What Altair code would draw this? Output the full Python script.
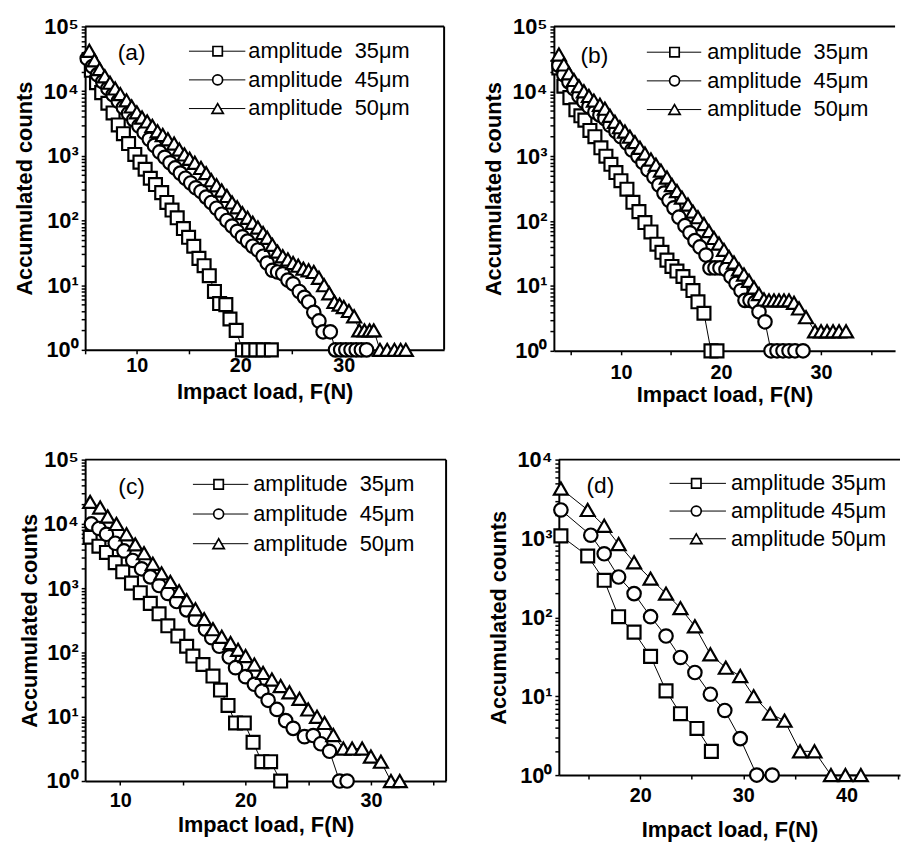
import altair as alt
import pandas as pd

FONT = "Liberation Sans"
NAMES = ["35", "45", "50"]
SHAPES = ["square", "circle", "triangle-up"]

# ---------------- panel (a) ----------------
a_sq_x = [5.6, 6.1, 6.6, 7.2, 7.7, 8.2, 8.7, 9.2, 9.8, 10.3, 10.8, 11.3, 11.8, 12.4, 12.9, 13.4, 13.9,
          14.5, 15.0, 15.5, 16.0, 16.5, 17.0, 17.5, 18.0, 18.6, 19.0, 19.6, 20.2, 20.8, 21.5, 22.2, 23.0]
a_sq_y = [21000, 13500, 9500, 6500, 4600, 3000, 2200, 1550, 1050, 800, 620, 450, 360, 270, 190, 145, 110,
          75, 55, 40, 26, 20, 14, 8, 5.2, 5, 3, 2, 1, 1, 1, 1, 1]
a_ci_x = [5.2, 5.7, 6.2, 6.7, 7.2, 7.7, 8.2, 8.7, 9.2, 9.7, 10.2, 10.7, 11.2, 11.7, 12.2, 12.7, 13.2, 13.7,
          14.2, 14.7, 15.2, 15.7, 16.2, 16.7, 17.2, 17.7, 18.2, 18.7, 19.2, 19.7, 20.2, 20.7, 21.2, 21.7,
          22.2, 22.6, 23.1, 23.6, 24.1, 24.6, 25.1, 25.7, 26.2, 26.6, 27.1, 27.6, 28.0, 28.7,
          29.2, 29.7, 30.2, 30.7, 31.2, 31.7, 32.2]
a_ci_y = [32000, 24000, 18000, 14000, 11000, 8800, 7000, 5600, 4500, 3600, 2900, 2300, 1800, 1450, 1150, 950,
          780, 650, 540, 450, 380, 320, 280, 230, 190, 155, 125, 100, 82, 68, 56, 48, 40, 35,
          28, 22, 17, 16, 15, 12, 10.5, 8, 6.5, 5.5, 3.8, 2.8, 1.9, 1.9,
          1, 1, 1, 1, 1, 1, 1]
a_tr_x = [5.4, 5.9, 6.4, 6.9, 7.4, 7.9, 8.4, 9.0, 9.5, 10.0, 10.5, 11.0, 11.5, 12.0, 12.5, 13.0, 13.6, 14.1,
          14.6, 15.1, 15.6, 16.2, 16.7, 17.2, 17.7, 18.2, 18.7, 19.2, 19.7, 20.2, 20.7, 21.2, 21.7, 22.2,
          22.6, 23.1, 23.6, 24.1, 24.6, 25.1, 25.6, 26.1, 26.6, 27.1, 27.6, 28.1, 28.6, 29.1, 29.6, 30.0,
          30.5, 31.0, 31.5, 32.0, 32.5, 32.9, 33.5, 34.2, 34.9, 35.5, 36.0]
a_tr_y = [42000, 30000, 22000, 17000, 13500, 11000, 9000, 7200, 5800, 4700, 3900, 3400, 2900, 2400, 2100,
          1800, 1550, 1250, 1050, 900, 780, 650, 540, 420, 350, 290, 240, 190, 160, 130, 110, 92, 78, 64,
          54, 42, 33, 28, 25, 22, 20, 18, 17, 16, 13, 10, 7.5, 5.5, 5, 4.6,
          4, 3.3, 2, 2, 2, 2, 1, 1, 1, 1, 1]

# ---------------- panel (b) ----------------
b_sq_x = [3.8, 4.3, 4.9, 5.5, 6.0, 6.4, 6.9, 7.4, 8.0, 8.5, 9.0, 9.5, 10.0, 10.6, 11.2, 11.8, 12.4, 13.0,
          13.6, 14.1, 14.6, 15.1, 15.6, 16.2, 16.7, 17.2, 17.7, 18.3, 19.0, 19.6]
b_sq_y = [23000, 12000, 8000, 5200, 4200, 3600, 2500, 2000, 1350, 1000, 750, 560, 420, 310, 195, 140, 95, 68,
          44, 33, 25, 20, 17, 14, 11, 8.5, 5.7, 3.8, 1, 1]
b_ci_x = [3.8, 4.3, 4.8, 5.3, 5.8, 6.3, 6.8, 7.4, 7.9, 8.4, 8.9, 9.5, 10.0, 10.6, 11.1, 11.7, 12.2, 12.7,
          13.3, 13.8, 14.3, 14.8, 15.3, 15.8, 16.4, 16.9, 17.4, 17.9, 18.5, 18.9, 19.4, 19.9, 20.5, 21.0,
          21.5, 22.0, 22.4, 22.9, 23.4, 23.8, 24.4, 25.0, 25.6, 26.2, 26.8, 27.4, 28.2]
b_ci_y = [25000, 18000, 14000, 11000, 8500, 7000, 5800, 4800, 4300, 3800, 3000, 2400, 2000, 1600, 1250, 1000,
          800, 620, 480, 360, 270, 210, 160, 115, 85, 66, 50, 40, 30, 19, 19, 19, 18, 14,
          11, 8.5, 6, 6, 5.6, 4, 2.8, 1, 1, 1, 1, 1, 1]
b_tr_x = [3.8, 4.3, 4.8, 5.3, 5.8, 6.3, 6.8, 7.3, 7.9, 8.4, 8.9, 9.4, 9.9, 10.4, 10.9, 11.4, 11.9, 12.4,
          13.0, 13.5, 14.0, 14.6, 15.1, 15.6, 16.1, 16.7, 17.2, 17.7, 18.3, 18.8, 19.3, 19.8, 20.3, 20.8,
          21.3, 21.8, 22.3, 22.8, 23.3, 23.8, 24.3, 24.8, 25.3, 25.8, 26.3, 26.8, 27.3, 27.8, 28.5,
          29.4, 30.0, 30.6, 31.2, 31.8, 32.5]
b_tr_y = [37000, 26000, 19000, 15000, 12000, 10000, 8500, 7200, 6200, 5400, 4200, 3400, 2800, 2400, 2000,
          1650, 1350, 1100, 890, 740, 600, 470, 360, 290, 230, 180, 140, 115, 90, 70, 55, 45, 36, 28,
          23, 18, 15, 12, 9.5, 7.5, 6.2, 6, 6, 6, 6, 6, 5.5, 4.5, 3.3,
          2, 2, 2, 2, 2, 2]

# ---------------- panel (c) ----------------
c_sq_x = [7.6, 8.3, 8.9, 9.6, 10.2, 10.9, 11.6, 12.4, 13.1, 13.8, 14.6, 15.3, 15.8, 16.6, 17.4, 18.0, 18.6,
          19.2, 19.9, 20.6, 21.3, 22.0, 22.8]
c_sq_y = [6200, 4500, 3600, 2500, 1800, 1200, 850, 580, 400, 260, 180, 125, 88, 65, 43, 26, 15,
          8, 8, 4, 2, 2, 1]
c_ci_x = [7.7, 8.3, 8.9, 9.6, 10.3, 11.0, 11.7, 12.4, 13.1, 13.8, 14.5, 15.3, 16.0, 16.8, 17.3, 17.9, 18.7,
          19.2, 20.0, 20.7, 21.3, 21.8, 22.5, 23.2, 23.8, 24.7, 25.4, 26.0, 26.7, 27.5, 28.1]
c_ci_y = [10000, 8500, 6900, 5000, 3800, 2700, 2000, 1500, 1100, 830, 620, 460, 330, 230, 170, 125, 85,
          58, 42, 32, 25, 18, 13, 8.7, 6.6, 4.9, 5.1, 3.8, 2.9, 1, 1]
c_tr_x = [7.6, 8.4, 9.0, 9.7, 10.5, 11.2, 11.9, 12.6, 13.3, 14.0, 14.7, 15.3, 16.0, 16.7, 17.4, 18.1, 18.8,
          19.4, 20.0, 20.7, 21.4, 22.1, 22.8, 23.5, 24.3, 25.0, 25.7, 26.3, 27.0, 27.8, 28.5, 29.3, 30.0,
          30.8, 31.6, 32.3]
c_tr_y = [22000, 18000, 13000, 10000, 6900, 4800, 3500, 2400, 1700, 1250, 900, 650, 470, 330, 230, 175, 140,
          110, 88, 65, 48, 38, 30, 24, 19, 13, 10, 8, 5.2, 3.2, 3.2, 3.2, 2.4,
          2, 1, 1]

# ---------------- panel (d) ----------------
d_sq_x = [12.3, 14.9, 16.5, 17.9, 19.4, 21.0, 22.5, 23.9, 25.5, 26.9]
d_sq_y = [1080, 600, 295, 102, 65, 32, 11.7, 6, 3.9, 2]
d_ci_x = [12.3, 15.2, 16.5, 17.9, 19.4, 21.0, 22.5, 23.9, 25.3, 26.8, 28.2, 29.7, 31.3, 32.8]
d_ci_y = [2300, 1100, 640, 325, 200, 102, 58, 31, 20, 10.6, 6.6, 2.9, 1, 1]
d_tr_x = [12.3, 14.9, 16.5, 17.9, 19.4, 21.0, 22.5, 23.9, 25.3, 26.8, 28.3, 29.7, 31.0, 32.6, 34.0, 35.5,
          36.9, 38.5, 39.9, 41.4]
d_tr_y = [4300, 2300, 1450, 850, 500, 310, 200, 131, 77, 34, 23, 18, 10, 6, 4.9, 2, 2, 1, 1, 1]

# ---------------- texts / ticks ----------------
legend_wide = ["amplitude\u00a0\u00a035\u03bcm", "amplitude\u00a0\u00a045\u03bcm", "amplitude\u00a0\u00a050\u03bcm"]
legend_narrow = ["amplitude 35\u03bcm", "amplitude 45\u03bcm", "amplitude 50\u03bcm"]
panel_labels = ["(a)", "(b)", "(c)", "(d)"]
x_title = "Impact load, F(N)"
y_title = "Accumulated counts"
x_ticks_abc = [5, 10, 15, 20, 25, 30, 35]
x_ticks_d = [15, 20, 25, 30, 35, 40, 45]
y_ticks5 = [m * 10 ** k for k in range(0, 5) for m in range(1, 10)] + [100000]
y_ticks4 = [m * 10 ** k for k in range(0, 4) for m in range(1, 10)] + [10000]

Y_LABEL = ("abs(log(datum.value)/LN10 - round(log(datum.value)/LN10)) < 0.001 ? "
           "'10' + ['\u2070','\u00b9','\u00b2','\u00b3','\u2074','\u2075'][round(log(datum.value)/LN10)] : ''")
X_LABEL = "datum.value % 10 == 0 ? datum.label : ''"


def make_df(series):
    frames = []
    for name, xs, ys in series:
        frames.append(pd.DataFrame({"x": xs, "y": ys, "s": name}))
    return pd.concat(frames, ignore_index=True)


def panel(series, xdom, xticks, ymax, yticks, W, H, msizes, label, label_pos,
          leg_texts, leg_x, leg_rows, right_border, x_lpad, x_tpad, y_tpad):
    df = make_df(series)
    xenc = alt.X("x:Q", scale=alt.Scale(domain=xdom, nice=False, zero=False),
                 axis=alt.Axis(values=xticks, labelExpr=X_LABEL, title=x_title, labelFontSize=20,
                               labelPadding=x_lpad, titlePadding=x_tpad, labelFlush=False,
                               labelOverlap=False))
    yenc = alt.Y("y:Q", scale=alt.Scale(type="log", domain=[1, ymax], nice=False),
                 axis=alt.Axis(values=yticks, labelExpr=Y_LABEL, title=y_title, labelFontSize=22,
                               labelPadding=3, titlePadding=y_tpad, labelFlush=False,
                               labelOverlap=False))
    base = alt.Chart(df)
    lines = base.mark_line(color="black", strokeWidth=1).encode(x=xenc, y=yenc, detail="s:N")
    pts = base.mark_point(filled=True, fill="white", stroke="black", strokeWidth=2.2,
                          opacity=1).encode(
        x=xenc, y=yenc,
        shape=alt.Shape("s:N", scale=alt.Scale(domain=NAMES, range=SHAPES), legend=None),
        size=alt.Size("s:N", scale=alt.Scale(domain=NAMES, range=msizes), legend=None),
    )
    layers = [lines, pts]

    one = pd.DataFrame({"t": [label]})
    layers.append(alt.Chart(one).mark_text(font=FONT, fontSize=23, color="black").encode(
        x=alt.value(label_pos[0]), y=alt.value(label_pos[1]), text="t:N"))

    lx1, lmx, lx2, ltx = leg_x
    leg_sizes = [90, 100, 130]
    for i in range(3):
        row = pd.DataFrame({"t": [leg_texts[i]]})
        ry = leg_rows[i]
        layers.append(alt.Chart(row).mark_rule(color="black", strokeWidth=1).encode(
            x=alt.value(lx1), x2=alt.value(lx2), y=alt.value(ry)))
        layers.append(alt.Chart(row).mark_point(shape=SHAPES[i], filled=True, fill="white",
                                                stroke="black", strokeWidth=1.7, size=leg_sizes[i],
                                                opacity=1).encode(
            x=alt.value(lmx), y=alt.value(ry)))
        layers.append(alt.Chart(row).mark_text(font=FONT, fontSize=22, align="left",
                                               baseline="middle", color="black").encode(
            x=alt.value(ltx), y=alt.value(ry), text="t:N"))

    frame = pd.DataFrame({"t": [label]})
    layers.append(alt.Chart(frame).mark_rule(color="black", strokeWidth=2).encode(
        x=alt.value(0), x2=alt.value(W), y=alt.value(0)))
    if right_border:
        layers.append(alt.Chart(frame).mark_rule(color="black", strokeWidth=2).encode(
            x=alt.value(W), y=alt.value(0), y2=alt.value(H)))
    return alt.layer(*layers).properties(width=W, height=H)


SZ_ABC = [170, 200, 280]
SZ_D = [220, 260, 380]

pa = panel([(NAMES[0], a_sq_x, a_sq_y), (NAMES[1], a_ci_x, a_ci_y), (NAMES[2], a_tr_x, a_tr_y)],
           [5, 39.7], x_ticks_abc, 100000, y_ticks5, 363, 327, SZ_ABC, panel_labels[0], (47, 27),
           legend_wide, (105, 134, 162, 165), (25, 54, 83), True, 2, 6, 7)
pb = panel([(NAMES[0], b_sq_x, b_sq_y), (NAMES[1], b_ci_x, b_ci_y), (NAMES[2], b_tr_x, b_tr_y)],
           [3.3, 37.4], x_ticks_abc, 100000, y_ticks5, 345, 328, SZ_ABC, panel_labels[1], (41, 30),
           legend_wide, (94, 122, 149, 155), (26, 55, 84), False, 8, 2, 7)
pc = panel([(NAMES[0], c_sq_x, c_sq_y), (NAMES[1], c_ci_x, c_ci_y), (NAMES[2], c_tr_x, c_tr_y)],
           [7.2, 36.0], x_ticks_abc, 100000, y_ticks5, 365, 325, SZ_ABC, panel_labels[2], (47, 28),
           legend_wide, (109, 135, 165, 170), (25, 55, 85), True, 6, 4, 2)
pd_ = panel([(NAMES[0], d_sq_x, d_sq_y), (NAMES[1], d_ci_x, d_ci_y), (NAMES[2], d_tr_x, d_tr_y)],
            [12.1, 45.2], x_ticks_d, 10000, y_ticks4, 345, 319, SZ_D, panel_labels[3], (42, 27),
            legend_narrow, (112, 139, 169, 174), (24, 52, 80), False, 7, 14, 7)

row1 = alt.hconcat(pa, pb, spacing=37)
row2 = alt.hconcat(pc, pd_, spacing=40)
chart = alt.vconcat(row1, row2, spacing=44).properties(
    padding={"left": 5, "top": 3, "right": 0, "bottom": 0}
).configure_view(stroke=None).configure_axis(
    grid=False, domainColor="black", domainWidth=2, tickColor="black", tickWidth=1.5, tickSize=4,
    labelColor="black", titleColor="black", labelFont=FONT, titleFont=FONT,
    labelFontWeight="bold", titleFontWeight="bold", titleFontSize=22,
)

chart.save("out.html", embed_options={"renderer": "svg", "actions": False})
